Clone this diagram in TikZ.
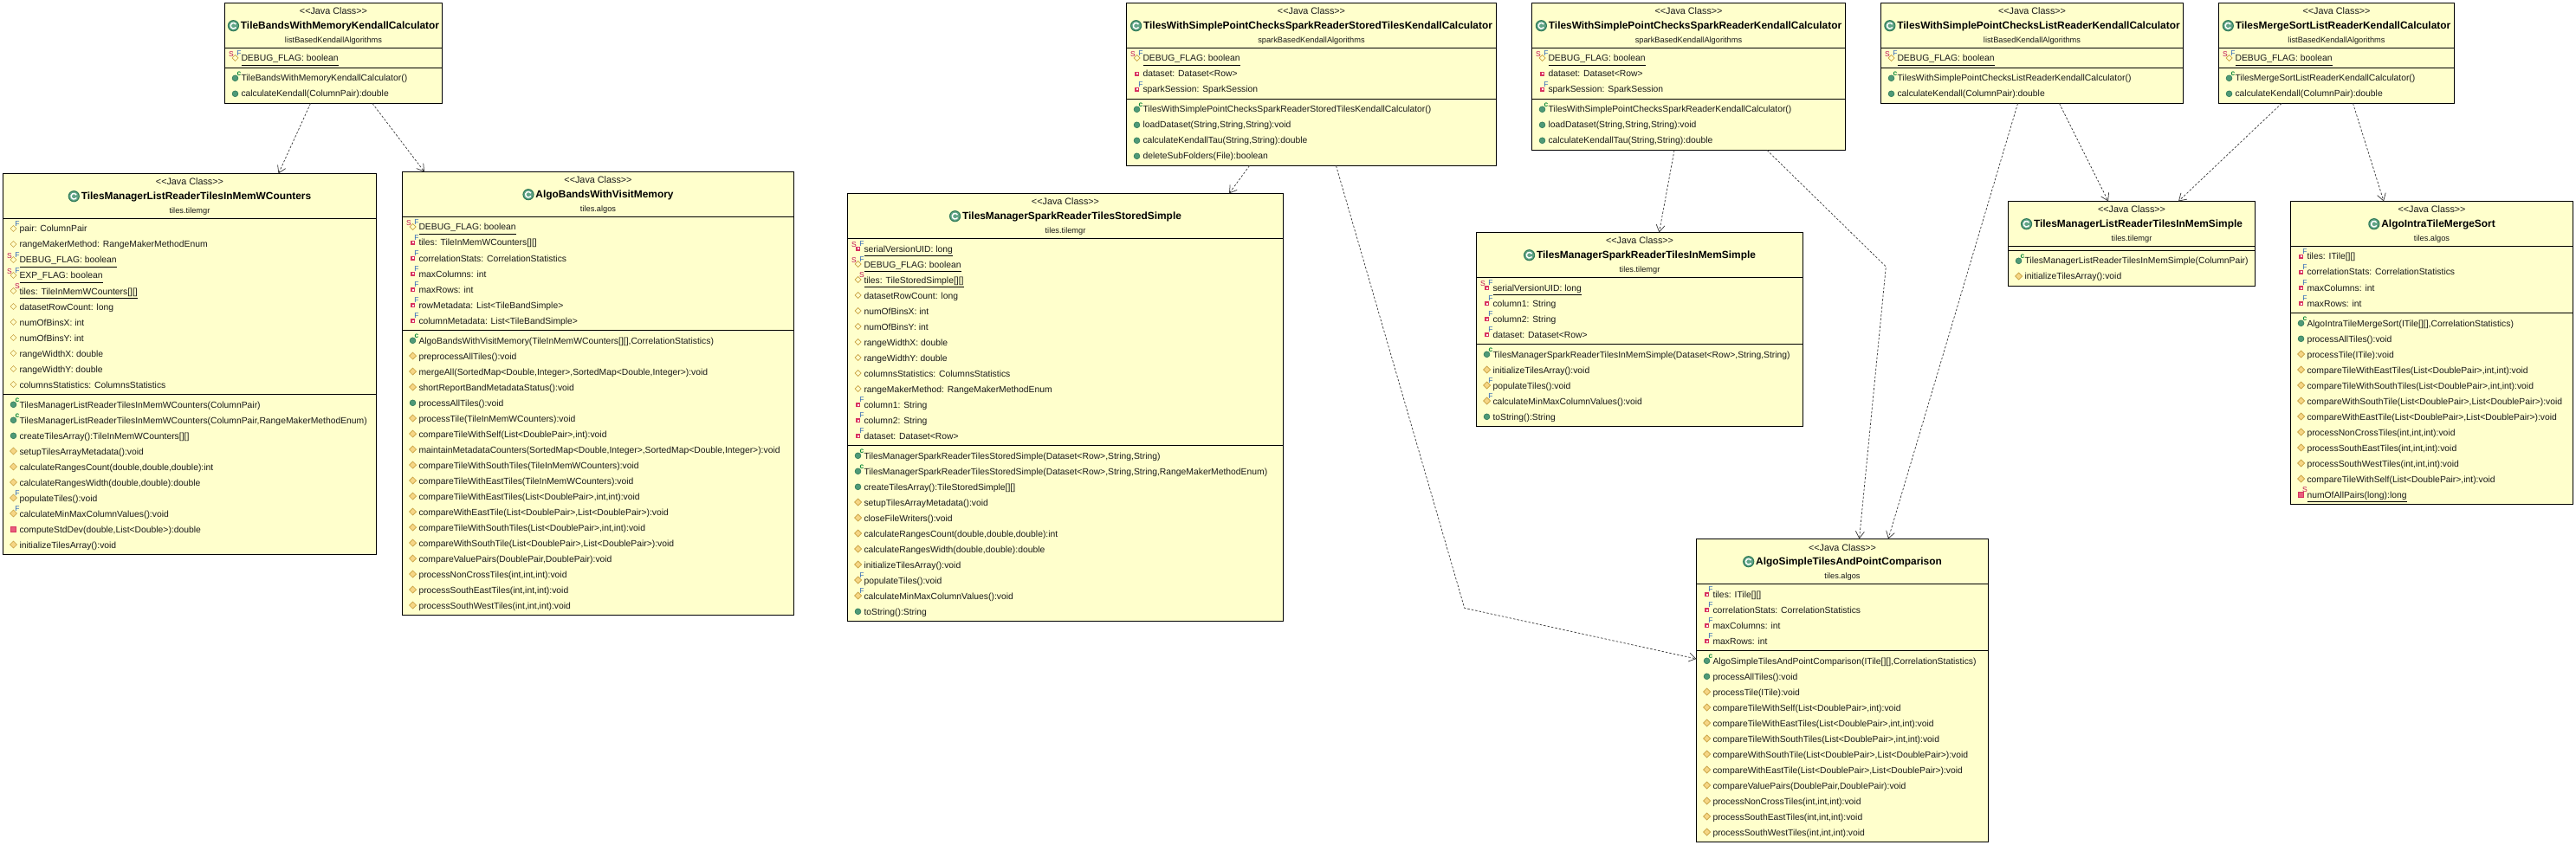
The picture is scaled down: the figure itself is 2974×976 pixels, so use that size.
\documentclass[tikz,border=0pt]{standalone}
\usepackage{fontspec}
\setmainfont{Liberation Sans}[Ligatures=TeXOff]
\usetikzlibrary{arrows.meta,calc}
\definecolor{boxfill}{HTML}{FFFFCC}
\definecolor{grn}{HTML}{4F9A78}
\definecolor{grnd}{HTML}{2F7A58}
\definecolor{org}{HTML}{C8A040}
\definecolor{orgf}{HTML}{F6D685}
\definecolor{rd}{HTML}{D8345F}
\definecolor{rdf}{HTML}{E85C7C}
\definecolor{sred}{HTML}{C01050}
\definecolor{fblue}{HTML}{3068B8}
\definecolor{cgrn}{HTML}{108A3A}
\newcount\nid
\newcommand{\fresh}{\global\advance\nid by 1 }
\newcommand{\rowfont}{\fontsize{10.35}{13}\selectfont}
\newcommand{\stfont}{\fontsize{10.8}{13}\selectfont}
\newcommand{\pkfont}{\fontsize{9.25}{13}\selectfont}
\newcommand{\titlefont}{\fontsize{11.9}{13}\selectfont\bfseries}
\tikzset{
  umlbox/.style={draw=black,fill=boxfill,line width=.9pt,anchor=north west,inner sep=0pt,outer sep=0pt},
  sepline/.style={draw=black,line width=.9pt},
  rowtext/.style={anchor=base west,inner sep=0pt,outer sep=0pt,font=\rowfont,text=black!90},
  headtext/.style={anchor=base,inner sep=0pt,outer sep=0pt,font=\stfont,text=black!90},
  pkgtext/.style={anchor=base,inner sep=0pt,outer sep=0pt,font=\pkfont,text=black!90},
  titletext/.style={anchor=base,inner sep=0pt,outer sep=0pt,font=\titlefont,text=black},
  decor/.style={inner sep=0pt,outer sep=0pt,font=\fontsize{8.5}{9}\selectfont},
  dep/.style={draw=black!75,line width=.75pt,dash pattern=on 2.5pt off 2pt,-{Straight Barb[length=8pt,width=10pt,line width=.75pt]}},
}
% box: name, left, right, top, bottom, title, package
\newcommand{\BOX}[7]{%
  \pgfmathsetmacro\bw{#3-#2}\pgfmathsetmacro\bh{#5-#4}%
  \pgfmathsetmacro\bc{(#2+#3)/2}%
  \def\curL{#2}\def\curR{#3}%
  \pgfmathsetmacro\curTop{#4+52}\def\curRow{0}%
  \node[umlbox,minimum width=\bw pt,minimum height=\bh pt] (#1) at (#2,#4) {};
  \node[headtext] (#1-st) at (\bc,#4+13.5) {<<Java Class>>};
  \node[titletext] (#1-ti) at (\bc+7.5,#4+30) {#6};
  \fill[grnd] ([xshift=-8.5pt,yshift=3.8pt]#1-ti.base west) circle (6.6pt);
  \fill[grn!90!white] ([xshift=-8.5pt,yshift=3.8pt]#1-ti.base west) circle (5.6pt);
  \draw[white,line width=1.5pt] ([xshift=-5.6pt,yshift=5.4pt]#1-ti.base west) arc (30:330:3.3pt);
  \node[pkgtext] (#1-pk) at (\bc,#4+46) {#7};
  \draw[sepline] (#2,\curTop) -- (#3,\curTop);
}
\newcommand{\Lt}[4]{\fresh\node[decor,text=#1] (d\the\nid) at (\ix+#2,\yc-#3) {#4};}
\newcommand{\Dh}{\draw[org,fill=boxfill,line width=.7pt] (\ix-3.5,\yc) -- (\ix,\yc-3.5) -- (\ix+3.5,\yc) -- (\ix,\yc+3.5) -- cycle;}
\newcommand{\Dm}{\draw[org,fill=orgf,line width=.7pt] (\ix-4,\yc) -- (\ix,\yc-4) -- (\ix+4,\yc) -- (\ix,\yc+4) -- cycle;}
\newcommand{\Ps}{\fill[rd] (\ix-2.8,\yc-2.3) rectangle (\ix+2.8,\yc+3.3);\fill[white] (\ix-1,\yc-.5) rectangle (\ix+1,\yc+1.5);}
\newcommand{\Pm}{\draw[rd,fill=rdf,line width=.7pt] (\ix-3.2,\yc-2.6) rectangle (\ix+3.2,\yc+3.8);}
\newcommand{\Gc}{\draw[grnd,fill=grn,line width=.6pt] (\ix,\yc+.3) circle (3.4pt);}
\expandafter\def\csname ica\endcsname{\Dh}
\expandafter\def\csname icb\endcsname{\Dh\Lt{fblue}{4.5}{5}{F}}
\expandafter\def\csname icc\endcsname{\Dh\Lt{sred}{-4.5}{4.5}{S}\Lt{fblue}{4.5}{5}{F}}
\expandafter\def\csname icd\endcsname{\Dh\Lt{sred}{4.5}{5}{S}}
\expandafter\def\csname ice\endcsname{\Ps}
\expandafter\def\csname icf\endcsname{\Ps\Lt{fblue}{4.5}{5}{F}}
\expandafter\def\csname icg\endcsname{\Ps\Lt{sred}{-4.5}{4.5}{S}\Lt{fblue}{4.5}{5}{F}}
\expandafter\def\csname ich\endcsname{\Gc}
\expandafter\def\csname ici\endcsname{\Gc\Lt{cgrn}{4.5}{5}{\textbf{c}}}
\expandafter\def\csname icj\endcsname{\Dm}
\expandafter\def\csname ick\endcsname{\Dm\Lt{fblue}{4.5}{5}{F}}
\expandafter\def\csname icl\endcsname{\Pm}
\expandafter\def\csname icm\endcsname{\Pm\Lt{sred}{4.5}{5}{S}}
\newcommand{\R}[2]{%
  \pgfmathsetmacro\yc{\curTop+11.5+18*\curRow}%
  \pgfmathsetmacro\ix{\curL+12}%
  \csname ic#1\endcsname
  \fresh\node[rowtext] (t\the\nid) at (\curL+19,\yc+4) {#2};
  \pgfmathtruncatemacro\curRow{\curRow+1}%
}
\newcommand{\RU}[2]{%
  \R{#1}{#2}%
  \draw[black,line width=.8pt] ([yshift=-4.6pt]t\the\nid.base west) -- ([yshift=-4.6pt]t\the\nid.base east);
}
\newcommand{\SEC}{%
  \pgfmathsetmacro\curTop{\curTop+5+18*\curRow}\def\curRow{0}%
  \draw[sepline] (\curL,\curTop) -- (\curR,\curTop);
}
\begin{document}
\begin{tikzpicture}[x=1pt,y=-1pt]
\useasboundingbox (0,0) rectangle (2974,976);
% A
\BOX{A}{259.5}{510.5}{3.5}{119.5}{TileBandsWithMemoryKendallCalculator}{listBasedKendallAlgorithms}
\RU{c}{DEBUG\_FLAG: boolean}\SEC
\R{i}{TileBandsWithMemoryKendallCalculator()}
\R{h}{calculateKendall(ColumnPair):double}
% B
\BOX{B}{3.5}{434.5}{200.5}{640.5}{TilesManagerListReaderTilesInMemWCounters}{tiles.tilemgr}
\R{b}{pair: ColumnPair}
\R{a}{rangeMakerMethod: RangeMakerMethodEnum}
\RU{c}{DEBUG\_FLAG: boolean}
\RU{c}{EXP\_FLAG: boolean}
\RU{d}{tiles: TileInMemWCounters[][]}
\R{a}{datasetRowCount: long}
\R{a}{numOfBinsX: int}
\R{a}{numOfBinsY: int}
\R{a}{rangeWidthX: double}
\R{a}{rangeWidthY: double}
\R{a}{columnsStatistics: ColumnsStatistics}\SEC
\R{i}{TilesManagerListReaderTilesInMemWCounters(ColumnPair)}
\R{i}{TilesManagerListReaderTilesInMemWCounters(ColumnPair,RangeMakerMethodEnum)}
\R{h}{createTilesArray():TileInMemWCounters[][]}
\R{j}{setupTilesArrayMetadata():void}
\R{j}{calculateRangesCount(double,double,double):int}
\R{j}{calculateRangesWidth(double,double):double}
\R{k}{populateTiles():void}
\R{k}{calculateMinMaxColumnValues():void}
\R{l}{computeStdDev(double,List<Double>):double}
\R{j}{initializeTilesArray():void}
% C
\BOX{C}{464.5}{916.5}{198.5}{710.5}{AlgoBandsWithVisitMemory}{tiles.algos}
\RU{c}{DEBUG\_FLAG: boolean}
\R{f}{tiles: TileInMemWCounters[][]}
\R{f}{correlationStats: CorrelationStatistics}
\R{f}{maxColumns: int}
\R{f}{maxRows: int}
\R{f}{rowMetadata: List<TileBandSimple>}
\R{f}{columnMetadata: List<TileBandSimple>}\SEC
\R{i}{AlgoBandsWithVisitMemory(TileInMemWCounters[][],CorrelationStatistics)}
\R{j}{preprocessAllTiles():void}
\R{j}{mergeAll(SortedMap<Double,Integer>,SortedMap<Double,Integer>):void}
\R{j}{shortReportBandMetadataStatus():void}
\R{h}{processAllTiles():void}
\R{j}{processTile(TileInMemWCounters):void}
\R{j}{compareTileWithSelf(List<DoublePair>,int):void}
\R{j}{maintainMetadataCounters(SortedMap<Double,Integer>,SortedMap<Double,Integer>):void}
\R{j}{compareTileWithSouthTiles(TileInMemWCounters):void}
\R{j}{compareTileWithEastTiles(TileInMemWCounters):void}
\R{j}{compareTileWithEastTiles(List<DoublePair>,int,int):void}
\R{j}{compareWithEastTile(List<DoublePair>,List<DoublePair>):void}
\R{j}{compareTileWithSouthTiles(List<DoublePair>,int,int):void}
\R{j}{compareWithSouthTile(List<DoublePair>,List<DoublePair>):void}
\R{j}{compareValuePairs(DoublePair,DoublePair):void}
\R{j}{processNonCrossTiles(int,int,int):void}
\R{j}{processSouthEastTiles(int,int,int):void}
\R{j}{processSouthWestTiles(int,int,int):void}
% D
\BOX{D}{978.5}{1481.5}{223.5}{717.5}{TilesManagerSparkReaderTilesStoredSimple}{tiles.tilemgr}
\RU{g}{serialVersionUID: long}
\RU{c}{DEBUG\_FLAG: boolean}
\RU{d}{tiles: TileStoredSimple[][]}
\R{a}{datasetRowCount: long}
\R{a}{numOfBinsX: int}
\R{a}{numOfBinsY: int}
\R{a}{rangeWidthX: double}
\R{a}{rangeWidthY: double}
\R{a}{columnsStatistics: ColumnsStatistics}
\R{a}{rangeMakerMethod: RangeMakerMethodEnum}
\R{f}{column1: String}
\R{f}{column2: String}
\R{f}{dataset: Dataset<Row>}\SEC
\R{i}{TilesManagerSparkReaderTilesStoredSimple(Dataset<Row>,String,String)}
\R{i}{TilesManagerSparkReaderTilesStoredSimple(Dataset<Row>,String,String,RangeMakerMethodEnum)}
\R{h}{createTilesArray():TileStoredSimple[][]}
\R{j}{setupTilesArrayMetadata():void}
\R{j}{closeFileWriters():void}
\R{j}{calculateRangesCount(double,double,double):int}
\R{j}{calculateRangesWidth(double,double):double}
\R{j}{initializeTilesArray():void}
\R{k}{populateTiles():void}
\R{k}{calculateMinMaxColumnValues():void}
\R{h}{toString():String}
% E
\BOX{E}{1300.5}{1727.5}{3.5}{191.5}{TilesWithSimplePointChecksSparkReaderStoredTilesKendallCalculator}{sparkBasedKendallAlgorithms}
\RU{c}{DEBUG\_FLAG: boolean}
\R{e}{dataset: Dataset<Row>}
\R{f}{sparkSession: SparkSession}\SEC
\R{i}{TilesWithSimplePointChecksSparkReaderStoredTilesKendallCalculator()}
\R{h}{loadDataset(String,String,String):void}
\R{h}{calculateKendallTau(String,String):double}
\R{h}{deleteSubFolders(File):boolean}
% F
\BOX{F}{1768.5}{2130.5}{3.5}{173.5}{TilesWithSimplePointChecksSparkReaderKendallCalculator}{sparkBasedKendallAlgorithms}
\RU{c}{DEBUG\_FLAG: boolean}
\R{e}{dataset: Dataset<Row>}
\R{f}{sparkSession: SparkSession}\SEC
\R{i}{TilesWithSimplePointChecksSparkReaderKendallCalculator()}
\R{h}{loadDataset(String,String,String):void}
\R{h}{calculateKendallTau(String,String):double}
% G
\BOX{G}{1704.5}{2081.5}{268.5}{492.5}{TilesManagerSparkReaderTilesInMemSimple}{tiles.tilemgr}
\RU{g}{serialVersionUID: long}
\R{f}{column1: String}
\R{f}{column2: String}
\R{f}{dataset: Dataset<Row>}\SEC
\R{i}{TilesManagerSparkReaderTilesInMemSimple(Dataset<Row>,String,String)}
\R{j}{initializeTilesArray():void}
\R{k}{populateTiles():void}
\R{k}{calculateMinMaxColumnValues():void}
\R{h}{toString():String}
% H
\BOX{H}{2171.5}{2520.5}{3.5}{119.5}{TilesWithSimplePointChecksListReaderKendallCalculator}{listBasedKendallAlgorithms}
\RU{c}{DEBUG\_FLAG: boolean}\SEC
\R{i}{TilesWithSimplePointChecksListReaderKendallCalculator()}
\R{h}{calculateKendall(ColumnPair):double}
% I
\BOX{I}{2561.5}{2833.5}{3.5}{119.5}{TilesMergeSortListReaderKendallCalculator}{listBasedKendallAlgorithms}
\RU{c}{DEBUG\_FLAG: boolean}\SEC
\R{i}{TilesMergeSortListReaderKendallCalculator()}
\R{h}{calculateKendall(ColumnPair):double}
% J
\BOX{J}{2318.5}{2603.5}{232.5}{330.5}{TilesManagerListReaderTilesInMemSimple}{tiles.tilemgr}
\SEC
\R{i}{TilesManagerListReaderTilesInMemSimple(ColumnPair)}
\R{j}{initializeTilesArray():void}
% K
\BOX{K}{2644.5}{2970.5}{232.5}{582.5}{AlgoIntraTileMergeSort}{tiles.algos}
\R{f}{tiles: ITile[][]}
\R{f}{correlationStats: CorrelationStatistics}
\R{f}{maxColumns: int}
\R{f}{maxRows: int}\SEC
\R{i}{AlgoIntraTileMergeSort(ITile[][],CorrelationStatistics)}
\R{h}{processAllTiles():void}
\R{j}{processTile(ITile):void}
\R{j}{compareTileWithEastTiles(List<DoublePair>,int,int):void}
\R{j}{compareTileWithSouthTiles(List<DoublePair>,int,int):void}
\R{j}{compareWithSouthTile(List<DoublePair>,List<DoublePair>):void}
\R{j}{compareWithEastTile(List<DoublePair>,List<DoublePair>):void}
\R{j}{processNonCrossTiles(int,int,int):void}
\R{j}{processSouthEastTiles(int,int,int):void}
\R{j}{processSouthWestTiles(int,int,int):void}
\R{j}{compareTileWithSelf(List<DoublePair>,int):void}
\RU{m}{numOfAllPairs(long):long}
% L
\BOX{L}{1958.5}{2295.5}{622.5}{972.5}{AlgoSimpleTilesAndPointComparison}{tiles.algos}
\R{f}{tiles: ITile[][]}
\R{f}{correlationStats: CorrelationStatistics}
\R{f}{maxColumns: int}
\R{f}{maxRows: int}\SEC
\R{i}{AlgoSimpleTilesAndPointComparison(ITile[][],CorrelationStatistics)}
\R{h}{processAllTiles():void}
\R{j}{processTile(ITile):void}
\R{j}{compareTileWithSelf(List<DoublePair>,int):void}
\R{j}{compareTileWithEastTiles(List<DoublePair>,int,int):void}
\R{j}{compareTileWithSouthTiles(List<DoublePair>,int,int):void}
\R{j}{compareWithSouthTile(List<DoublePair>,List<DoublePair>):void}
\R{j}{compareWithEastTile(List<DoublePair>,List<DoublePair>):void}
\R{j}{compareValuePairs(DoublePair,DoublePair):void}
\R{j}{processNonCrossTiles(int,int,int):void}
\R{j}{processSouthEastTiles(int,int,int):void}
\R{j}{processSouthWestTiles(int,int,int):void}
% connectors
\coordinate (bendE) at (1690.7,702.3);
\coordinate (bendF) at (2177.3,308);
\draw[dep] ($(A.south west)+(99,0)$) -- ($(B.north west)+(318,0)$);
\draw[dep] ($(A.south west)+(170.5,0)$) -- ($(C.north west)+(25.5,0)$);
\draw[dep] ($(E.south west)+(142,0)$) -- ($(D.north west)+(440.5,0)$);
\draw[dep] ($(E.south west)+(242,0)$) -- (bendE) -- ($(L.north west)+(0,138.5)$);
\draw[dep] ($(F.south west)+(164.5,0)$) -- ($(G.north west)+(211,0)$);
\draw[dep] ($(F.south west)+(271.5,0)$) -- (bendF) -- ($(L.north west)+(188,0)$);
\draw[dep] ($(H.south west)+(158,0)$) -- ($(L.north west)+(221.5,0)$);
\draw[dep] ($(H.south west)+(206,0)$) -- ($(J.north west)+(115.5,0)$);
\draw[dep] ($(I.south west)+(72.5,0)$) -- ($(J.north west)+(196.5,0)$);
\draw[dep] ($(I.south west)+(155,0)$) -- ($(K.north west)+(107.5,0)$);
\end{tikzpicture}
\end{document}
